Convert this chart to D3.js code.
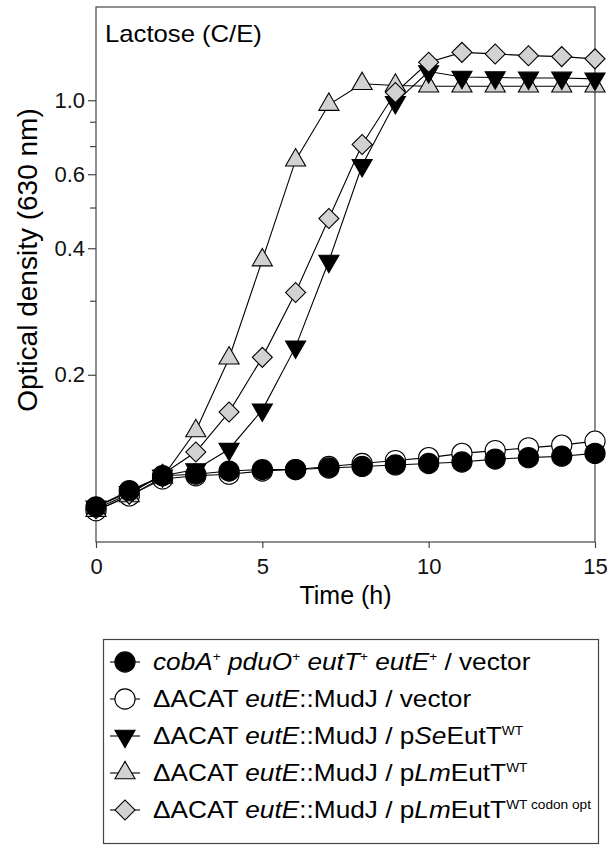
<!DOCTYPE html>
<html>
<head>
<meta charset="utf-8">
<script src="https://cdn.jsdelivr.net/npm/d3@7"></script>
<style>
  body { margin: 0; background: #fff; }
  svg { display: block; font-family: "Liberation Sans", Arial, Helvetica, sans-serif; }
</style>
</head>
<body>
<div id="chart"></div>
<script>
// time points (h)
const hours = [0, 1, 2, 3, 4, 5, 6, 7, 8, 9, 10, 11, 12, 13, 14, 15];

// OD630
const odWildType = [0.097, 0.106, 0.115, 0.116, 0.118, 0.119, 0.119, 0.120, 0.121, 0.122, 0.123, 0.124, 0.126, 0.127, 0.128, 0.130];
const odAcatVector = [0.095, 0.103, 0.113, 0.115, 0.116, 0.118, 0.119, 0.121, 0.123, 0.125, 0.127, 0.130, 0.132, 0.134, 0.136, 0.139];
const odSeEutT = [0.097, 0.105, 0.115, 0.119, 0.133, 0.165, 0.233, 0.373, 0.630, 0.890, 1.053, 1.022, 1.019, 1.017, 1.017, 1.012];
const odLmEutT = [0.095, 0.103, 0.114, 0.147, 0.219, 0.375, 0.648, 0.879, 0.985, 0.976, 0.972, 0.972, 0.972, 0.972, 0.972, 0.972];
const odLmEutTOpt = [0.096, 0.104, 0.116, 0.131, 0.163, 0.220, 0.314, 0.471, 0.706, 0.939, 1.108, 1.170, 1.160, 1.149, 1.143, 1.129];

const xTicks = [0, 5, 10, 15];
// the figure's top labelled tick sits at the 0.9 gridline but reads "1.0"
const yMajorTicks = [0.2, 0.4, 0.6, 0.9];
const yMajorLabels = ["0.2", "0.4", "0.6", "1.0"];
const yMinorTicks = [0.3, 0.5, 0.7, 0.8];

const panelTitle = "Lactose (C/E)";
const xTitle = "Time (h)";
const yTitle = "Optical density (630 nm)";

// legend labels as text runs: i = italic, s = superscript
const legendLabels = [
  [{t: "cobA", i: 1}, {t: "+", s: 1}, {t: " "}, {t: "pduO", i: 1}, {t: "+", s: 1}, {t: " "}, {t: "eutT", i: 1}, {t: "+", s: 1}, {t: " "}, {t: "eutE", i: 1}, {t: "+", s: 1}, {t: " / vector"}],
  [{t: "\u0394ACAT "}, {t: "eutE", i: 1}, {t: "::MudJ / vector"}],
  [{t: "\u0394ACAT "}, {t: "eutE", i: 1}, {t: "::MudJ / p"}, {t: "Se", i: 1}, {t: "EutT"}, {t: "WT", s: 1}],
  [{t: "\u0394ACAT "}, {t: "eutE", i: 1}, {t: "::MudJ / p"}, {t: "Lm", i: 1}, {t: "EutT"}, {t: "WT", s: 1}],
  [{t: "\u0394ACAT "}, {t: "eutE", i: 1}, {t: "::MudJ / p"}, {t: "Lm", i: 1}, {t: "EutT"}, {t: "WT codon opt", s: 1}]
];

const series = [
  {values: odWildType, shape: "circle", fill: "#000"},
  {values: odAcatVector, shape: "circle", fill: "#fff"},
  {values: odSeEutT, shape: "down", fill: "#000"},
  {values: odLmEutT, shape: "up", fill: "#d2d2d2"},
  {values: odLmEutTOpt, shape: "diamond", fill: "#d2d2d2"}
];
// markers stacking order (bottom -> top)
const drawOrder = [1, 3, 2, 4, 0];

const W = 611, H = 845;
const plotL = 96, plotR = 595, plotT = 7, plotB = 542;

const svg = d3.select("#chart").append("svg")
  .attr("width", W).attr("height", H);

const x = d3.scaleLinear().domain([0, 15]).range([plotL, plotR]);
const y = d3.scaleLog().domain([0.08, 1.5]).range([plotB, plotT]);

function symbolPath(shape) {
  if (shape === "circle") return d3.symbol(d3.symbolCircle, 320)();
  if (shape === "diamond") return d3.symbol(d3.symbolSquare, 200)();
  return d3.symbol(d3.symbolTriangle, 175)();
}
function symbolRotate(shape) {
  if (shape === "diamond") return 45;
  if (shape === "down") return 180;
  return 0;
}

// frame
svg.append("rect")
  .attr("x", plotL).attr("y", plotT)
  .attr("width", plotR - plotL).attr("height", plotB - plotT)
  .attr("fill", "none").attr("stroke", "#444").attr("stroke-width", 1.2);

// axes
const xAxis = svg.append("g")
  .attr("transform", "translate(0," + plotB + ")")
  .call(d3.axisBottom(x).tickValues(xTicks).tickFormat(d3.format("d")).tickSize(6).tickPadding(10));

const yAxis = svg.append("g")
  .attr("transform", "translate(" + plotL + ",0)")
  .call(d3.axisLeft(y).tickValues(yMajorTicks)
    .tickFormat(function(d, i) { return yMajorLabels[i]; })
    .tickSize(8).tickPadding(3));

const yMinor = svg.append("g")
  .attr("transform", "translate(" + plotL + ",0)")
  .call(d3.axisLeft(y).tickValues(yMinorTicks).tickFormat("").tickSize(6));

[xAxis, yAxis, yMinor].forEach(function(g) {
  g.select(".domain").remove();
  g.selectAll(".tick line").attr("stroke", "#444").attr("stroke-width", 1.2);
  g.selectAll("text").attr("font-size", 22).attr("fill", "#111")
    .attr("font-family", "'Liberation Sans', Arial, sans-serif");
});

// titles
svg.append("text")
  .attr("x", (plotL + plotR) / 2).attr("y", 604)
  .attr("text-anchor", "middle").attr("font-size", 25)
  .text(xTitle);

svg.append("text")
  .attr("transform", "translate(37," + 260 + ") rotate(-90)")
  .attr("text-anchor", "middle").attr("font-size", 28)
  .text(yTitle);

svg.append("text")
  .attr("x", 105).attr("y", 42)
  .attr("font-size", 24)
  .attr("transform", "translate(105,0) scale(1.07,1) translate(-105,0)")
  .text(panelTitle);

// lines
const line = d3.line()
  .x(function(d, i) { return x(hours[i]); })
  .y(function(d) { return y(d); });

series.forEach(function(s) {
  svg.append("path")
    .attr("d", line(s.values))
    .attr("fill", "none")
    .attr("stroke", "#000")
    .attr("stroke-width", 1.1);
});

// markers
drawOrder.forEach(function(k) {
  const s = series[k];
  svg.append("g").selectAll("path")
    .data(s.values)
    .enter().append("path")
    .attr("d", symbolPath(s.shape))
    .attr("transform", function(d, i) {
      return "translate(" + x(hours[i]) + "," + y(d) + ") rotate(" + symbolRotate(s.shape) + ")";
    })
    .attr("fill", s.fill)
    .attr("stroke", "#000")
    .attr("stroke-width", 1.1);
});

// legend
const legend = svg.append("g");
legend.append("rect")
  .attr("x", 103.5).attr("y", 639.5)
  .attr("width", 495).attr("height", 204)
  .attr("fill", "none").attr("stroke", "#444").attr("stroke-width", 1.2);

const rowY = d3.scalePoint().domain(d3.range(series.length)).range([662, 810]);

series.forEach(function(s, k) {
  const cy = rowY(k);
  const row = legend.append("g");
  row.append("line")
    .attr("x1", 110).attr("x2", 140)
    .attr("y1", cy).attr("y2", cy)
    .attr("stroke", "#000").attr("stroke-width", 1.1);
  row.append("path")
    .attr("d", symbolPath(s.shape))
    .attr("transform", "translate(125," + cy + ") rotate(" + symbolRotate(s.shape) + ")")
    .attr("fill", s.fill).attr("stroke", "#000").attr("stroke-width", 1.1);

  // reference lettering is set wider than Liberation Sans
  const txt = row.append("text")
    .attr("transform", "translate(153," + (cy + 8) + ") scale(1.14,1)")
    .attr("font-size", 23);
  let raised = false;
  legendLabels[k].forEach(function(seg) {
    const ts = txt.append("tspan").text(seg.t);
    if (seg.i) ts.attr("font-style", "italic");
    if (seg.s) {
      ts.attr("font-size", 12).attr("dy", raised ? 0 : -9);
      raised = true;
    } else if (raised) {
      ts.attr("dy", 9);
      raised = false;
    }
  });
});
</script>
</body>
</html>
